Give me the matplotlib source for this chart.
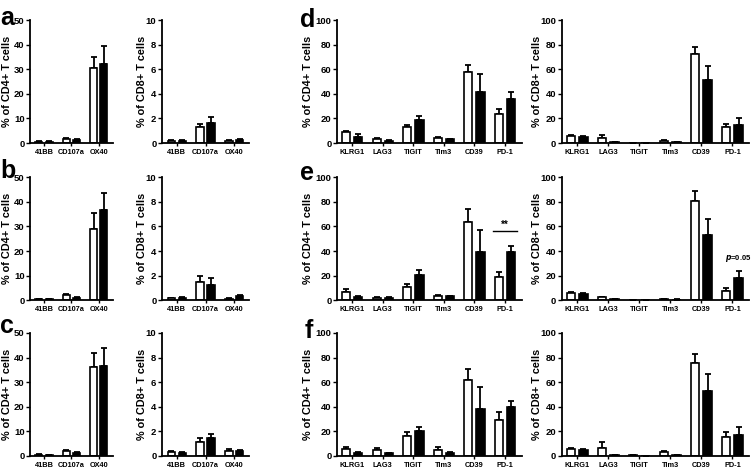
import numpy as np
import matplotlib.pyplot as plt

plt.rcParams['font.family'] = ['Liberation Sans', 'DejaVu Sans']
plt.rcParams['font.weight'] = 'bold'

# categories
cats3 = ['41BB', 'CD107a', 'OX40']
cats6 = ['KLRG1', 'LAG3', 'TIGIT', 'Tim3', 'CD39', 'PD-1']

# panel a
a_cd4_white = [0.5, 1.5, 30.5]
a_cd4_white_err = [0.2, 0.4, 4.5]
a_cd4_black = [0.6, 1.2, 32.0]
a_cd4_black_err = [0.2, 0.3, 7.5]
a_cd8_white = [0.2, 1.3, 0.2]
a_cd8_white_err = [0.05, 0.25, 0.05]
a_cd8_black = [0.2, 1.6, 0.25]
a_cd8_black_err = [0.05, 0.55, 0.05]

# panel b
b_cd4_white = [0.3, 2.2, 29.0]
b_cd4_white_err = [0.1, 0.5, 6.5]
b_cd4_black = [0.3, 1.0, 36.5]
b_cd4_black_err = [0.1, 0.2, 7.0]
b_cd8_white = [0.15, 1.5, 0.1]
b_cd8_white_err = [0.05, 0.45, 0.05]
b_cd8_black = [0.2, 1.23, 0.35]
b_cd8_black_err = [0.05, 0.55, 0.05]

# panel c
c_cd4_white = [0.5, 2.0, 36.0]
c_cd4_white_err = [0.1, 0.4, 6.0]
c_cd4_black = [0.3, 1.2, 36.6]
c_cd4_black_err = [0.1, 0.2, 7.4]
c_cd8_white = [0.35, 1.16, 0.43]
c_cd8_white_err = [0.05, 0.3, 0.1]
c_cd8_black = [0.25, 1.44, 0.4]
c_cd8_black_err = [0.05, 0.32, 0.05]

# panel d
d_cd4_white = [8.7, 3.0, 13.0, 4.0, 57.6, 24.0]
d_cd4_white_err = [1.3, 0.8, 2.0, 1.0, 6.0, 3.7]
d_cd4_black = [4.9, 2.0, 18.5, 3.0, 41.3, 35.9]
d_cd4_black_err = [2.7, 0.5, 3.8, 0.5, 14.7, 5.4]
d_cd8_white = [5.4, 3.8, 0.0, 1.6, 72.8, 13.0]
d_cd8_white_err = [0.8, 2.7, 0.0, 0.6, 5.2, 2.2]
d_cd8_black = [4.9, 0.5, 0.0, 0.5, 51.6, 15.0]
d_cd8_black_err = [0.5, 0.2, 0.0, 0.2, 10.9, 5.4]

# panel e
e_cd4_white = [6.8, 2.0, 10.4, 3.6, 63.8, 18.6]
e_cd4_white_err = [2.0, 0.5, 2.8, 0.5, 10.2, 4.1]
e_cd4_black = [2.5, 2.0, 20.5, 3.0, 39.0, 39.0]
e_cd4_black_err = [0.5, 0.5, 4.1, 0.5, 17.7, 5.0]
e_cd8_white = [6.0, 2.2, 0.0, 1.0, 80.3, 7.7]
e_cd8_white_err = [1.0, 0.3, 0.0, 0.3, 8.7, 2.3]
e_cd8_black = [5.0, 1.0, 0.0, 0.5, 53.4, 17.8]
e_cd8_black_err = [0.5, 0.2, 0.0, 0.2, 12.9, 6.0]

# panel f
f_cd4_white = [5.5, 4.4, 15.9, 4.4, 61.4, 29.0]
f_cd4_white_err = [1.9, 2.2, 3.8, 2.7, 9.6, 6.3]
f_cd4_black = [2.5, 2.0, 20.3, 2.7, 38.4, 39.7]
f_cd4_black_err = [0.4, 0.4, 3.5, 0.4, 17.8, 4.7]
f_cd8_white = [5.5, 6.8, 0.3, 3.3, 75.3, 15.6]
f_cd8_white_err = [0.5, 4.7, 0.0, 0.7, 8.0, 4.1]
f_cd8_black = [4.7, 0.8, 0.0, 0.7, 53.0, 17.0]
f_cd8_black_err = [0.8, 0.2, 0.0, 0.2, 13.3, 6.3]


def draw(ax, cats, white, werr, black, berr, ymax, ystep, ylabel, labx):
    x = np.arange(len(cats))
    if len(cats) == 3:
        off, w = 0.19, 0.25
        ax.set_xlim(-0.51, 2.51)
    else:
        off, w = 0.2, 0.27
        ax.set_xlim(-0.5, 5.55)
    for xs, vals, err, fc in [(x - off, white, werr, 'white'), (x + off, black, berr, 'black')]:
        ax.bar(xs, vals, w, color=fc, edgecolor='black', linewidth=1.2, zorder=2)
        ax.errorbar(xs, vals, yerr=[np.zeros(len(vals)), err], fmt='none',
                    ecolor='black', elinewidth=1.3, capsize=2, capthick=1.3, zorder=1)
    ax.set_ylim(0, ymax)
    ax.set_yticks(np.arange(0, ymax + ystep / 2, ystep))
    ax.set_xticks(x)
    ax.set_xticklabels(cats, fontsize=5.3, fontweight='bold')
    ax.tick_params(axis='y', labelsize=6.8, length=3, width=1, pad=1)
    ax.tick_params(axis='x', length=2.5, width=1, pad=2)
    for s in ['top', 'right']:
        ax.spines[s].set_visible(False)
    for s in ['left', 'bottom']:
        ax.spines[s].set_linewidth(1.3)
    ax.set_ylabel(ylabel, fontsize=7.8, fontweight='bold')
    ax.yaxis.set_label_coords(labx, 0.5)


fig = plt.figure(figsize=(7.51, 4.69), dpi=100)

cols = [(0.040, 0.110), (0.2157, 0.116), (0.4487, 0.246), (0.748, 0.250)]
rows = [0.695, 0.360, 0.028]
h = 0.262
labxs = [-0.217, -0.172, -0.13, -0.106]

panels = [
    [(cats3, a_cd4_white, a_cd4_white_err, a_cd4_black, a_cd4_black_err, 50, 10, '% of CD4+ T cells'),
     (cats3, a_cd8_white, a_cd8_white_err, a_cd8_black, a_cd8_black_err, 10, 2, '% of CD8+ T cells'),
     (cats6, d_cd4_white, d_cd4_white_err, d_cd4_black, d_cd4_black_err, 100, 20, '% of CD4+ T cells'),
     (cats6, d_cd8_white, d_cd8_white_err, d_cd8_black, d_cd8_black_err, 100, 20, '% of CD8+ T cells')],
    [(cats3, b_cd4_white, b_cd4_white_err, b_cd4_black, b_cd4_black_err, 50, 10, '% of CD4+ T cells'),
     (cats3, b_cd8_white, b_cd8_white_err, b_cd8_black, b_cd8_black_err, 10, 2, '% of CD8+ T cells'),
     (cats6, e_cd4_white, e_cd4_white_err, e_cd4_black, e_cd4_black_err, 100, 20, '% of CD4+ T cells'),
     (cats6, e_cd8_white, e_cd8_white_err, e_cd8_black, e_cd8_black_err, 100, 20, '% of CD8+ T cells')],
    [(cats3, c_cd4_white, c_cd4_white_err, c_cd4_black, c_cd4_black_err, 50, 10, '% of CD4+ T cells'),
     (cats3, c_cd8_white, c_cd8_white_err, c_cd8_black, c_cd8_black_err, 10, 2, '% of CD8+ T cells'),
     (cats6, f_cd4_white, f_cd4_white_err, f_cd4_black, f_cd4_black_err, 100, 20, '% of CD4+ T cells'),
     (cats6, f_cd8_white, f_cd8_white_err, f_cd8_black, f_cd8_black_err, 100, 20, '% of CD8+ T cells')],
]

axes = []
for r, bottom in enumerate(rows):
    row_axes = []
    for c, (left, width) in enumerate(cols):
        ax = fig.add_axes([left, bottom, width, h])
        draw(ax, *panels[r][c], labxs[c])
        row_axes.append(ax)
    axes.append(row_axes)

# significance annotations in row e
ax_e4 = axes[1][2]
ax_e4.plot([4.6, 5.4], [56.5, 56.5], color='black', lw=1)
ax_e4.text(5.0, 57.5, '**', ha='center', va='bottom', fontsize=7, fontweight='bold')
ax_e8 = axes[1][3]
ax_e8.text(5.2, 33, r'$\it{p}$=0.05', ha='center', va='baseline', fontsize=5.5, fontweight='bold')

# panel letters
for letter, x, y in [('a', 0.0, 0.947), ('d', 0.399, 0.942), ('b', 0.0, 0.620),
                     ('e', 0.399, 0.616), ('c', 0.0, 0.290), ('f', 0.405, 0.279)]:
    fig.text(x, y, letter, fontsize=18, fontweight='bold', va='baseline', ha='left')

fig.savefig('out.png', dpi=100)
